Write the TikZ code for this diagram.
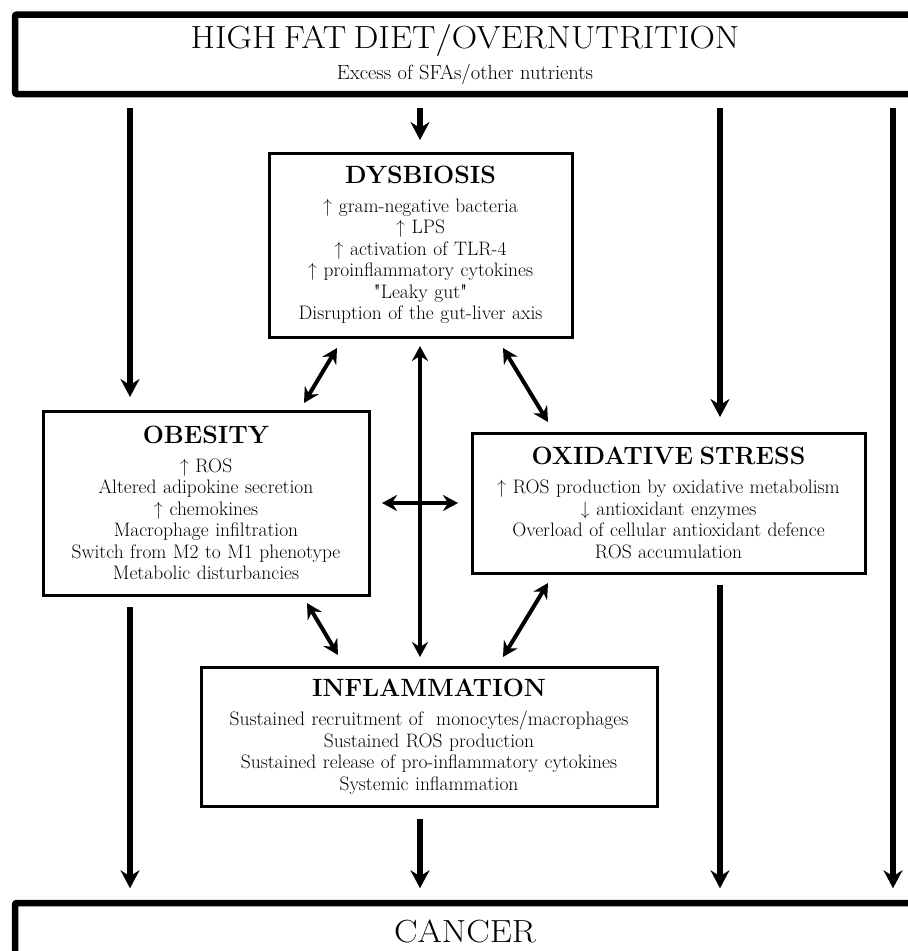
\documentclass[tikz,border=0pt]{standalone}
\usepackage{tikz}
\usepackage{amsmath}
\usepackage{amssymb}
\usepackage{fontspec}
\usetikzlibrary{arrows.meta}
\usetikzlibrary{calc}

\newfontfamily\quotefont{lmroman10-regular.otf}[Ligatures=TeXOff]
\newcommand{\boxtitle}{\fontsize{25}{28}\selectfont\bfseries}
\newcommand{\boxbody}{\fontsize{19.5}{21.5}\selectfont}
\newcommand{\bigtitle}[1]{\scalebox{1.1}[1]{\fontsize{32}{36}\selectfont #1}}
\newcommand{\qmark}{{\quotefont "}}
\newcommand{\up}{\textuparrow\ }
\newcommand{\down}{\textdownarrow\ }

\begin{document}
\begin{tikzpicture}[x=1pt,y=-1pt,
    factorbox/.style={draw, line width=3pt, inner sep=0pt, align=center, font=\boxbody},
    bigbox/.style={draw, line width=6.5pt, inner sep=0pt, align=center, font=\boxbody, rounded corners=2pt},
    push/.style={line width=6pt, -{Stealth[length=18pt,width=19pt,inset=6pt]}},
    linkarrow/.style={line width=4pt, {Stealth[length=15pt,width=16pt,inset=5pt]}-{Stealth[length=15pt,width=16pt,inset=5pt]}}]
            \useasboundingbox (0,0) rectangle (908,951);
            \clip (0,0) rectangle (908,951);

            % Boxes
            \node[bigbox, minimum width=900, minimum height=79.5, text width=880] (diet) at (465,54.25)
                {\bigtitle{HIGH FAT DIET/OVERNUTRITION}\\[7pt] {\fontsize{20.5}{22}\selectfont Excess of SFAs/other nutrients}};
            \node[factorbox, minimum width=303, minimum height=184, text width=295] (dys) at (420.5,245)
                {{\boxtitle DYSBIOSIS}\\[7.5pt]
                 \up gram-negative bacteria\\ \up LPS\\ \up activation of TLR-4\\
                 \up proinflammatory cytokines\\ \qmark Leaky gut\qmark\\ Disruption of the gut-liver axis};
            \node[factorbox, minimum width=326, minimum height=184, text width=316] (obes) at (206,503)
                {{\boxtitle OBESITY}\\[7.5pt]
                 \up ROS\\ Altered adipokine secretion\\ \up chemokines\\
                 Macrophage infiltration\\ Switch from M2 to M1 phenotype\\ Metabolic disturbancies};
            \node[factorbox, minimum width=393, minimum height=140, text width=383] (oxs) at (668.5,503)
                {{\boxtitle OXIDATIVE STRESS}\\[7.5pt]
                 \up ROS production by oxidative metabolism\\ \down antioxidant enzymes\\
                 Overload of cellular antioxidant defence\\ ROS accumulation};
            \node[factorbox, minimum width=456, minimum height=139, text width=446] (infl) at (429,736.5)
                {{\boxtitle INFLAMMATION}\\[7.5pt]
                 Sustained recruitment of~ monocytes/macrophages\\ Sustained ROS production\\
                 Sustained release of pro-inflammatory cytokines\\ Systemic inflammation};
            \node[bigbox, minimum width=900, minimum height=57, text width=880] (cancer) at (465,931.5)
                {\bigtitle{CANCER}};

            % Columns of the long arrows
            \coordinate (colA) at (130,0);
            \coordinate (colB) at (420,0);
            \coordinate (colC) at (720,0);
            \coordinate (colD) at (893,0);

            \draw[push, shorten <=11pt, shorten >=12.5pt] (diet.south -| colA) -- (obes.north -| colA);
            \draw[push, shorten <=11pt, shorten >=11.5pt] (diet.south -| colB) -- (dys.north -| colB);
            \draw[push, shorten <=11pt, shorten >=14.5pt] (diet.south -| colC) -- (oxs.north -| colC);
            \draw[push, shorten <=11pt, shorten >=11.5pt] (diet.south -| colD) -- (cancer.north -| colD);
            \draw[push, shorten <=10.5pt, shorten >=11.5pt] (obes.south -| colA) -- (cancer.north -| colA);
            \draw[push, shorten <=11.5pt, shorten >=11.5pt] (infl.south -| colB) -- (cancer.north -| colB);
            \draw[push, shorten <=10.5pt, shorten >=11.5pt] (oxs.south -| colC) -- (cancer.north -| colC);

            % Two-way links
            \draw[linkarrow, shorten <=7.5pt, shorten >=8.5pt] (dys.south -| colB) -- (infl.north -| colB);
            \draw[linkarrow, shorten <=11.5pt, shorten >=12.5pt] (obes.east) -- (oxs.west);
            \draw[linkarrow] ($(dys.south west)+(69.5,9.5)$) -- ($(obes.north east)+(-66.5,-6.5)$);
            \draw[linkarrow] ($(dys.south east)+(-70.5,9.5)$) -- ($(oxs.north west)+(77.5,-9.5)$);
            \draw[linkarrow] ($(obes.south east)+(-63.5,6.5)$) -- ($(infl.north west)+(138.5,-10.5)$);
            \draw[linkarrow] ($(oxs.south west)+(77.5,8.5)$) -- ($(infl.north east)+(-155.5,-8.5)$);

\end{tikzpicture}
\end{document}
